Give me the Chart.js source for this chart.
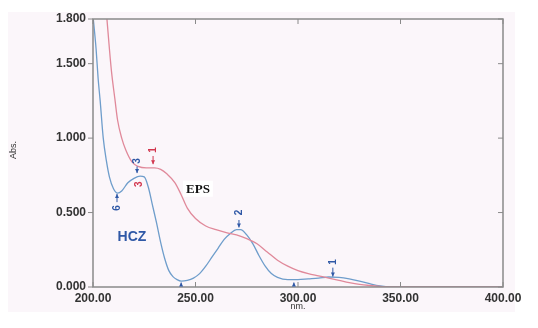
<!DOCTYPE html>
<html><head><meta charset="utf-8">
<script src="https://cdn.jsdelivr.net/npm/chart.js@4/dist/chart.umd.min.js"></script>
<style>html,body{margin:0;padding:0;background:#fff}#wrap{width:538px;height:328px}</style>
</head><body><div id="wrap"><canvas id="c" width="538" height="328"></canvas></div>
<script>
// ---- data ----
const hczNm  = [200,201.5,202.5,203.5,205,206.5,208,210,212,214,217,220,223,225,227,229,231,233,235,237,239,241,243,246,249,252,255,258,261,264,267,270,272,275,278,281,284,287,290,295,300,305,310,315,320,325,330,335,340,345,400];
const hczAbs = [1.82,1.6,1.4,1.25,1.0,0.85,0.74,0.66,0.63,0.645,0.70,0.73,0.745,0.74,0.67,0.55,0.43,0.30,0.19,0.11,0.07,0.05,0.04,0.045,0.06,0.09,0.14,0.20,0.26,0.32,0.36,0.385,0.385,0.35,0.29,0.21,0.14,0.09,0.065,0.05,0.05,0.055,0.06,0.067,0.065,0.055,0.04,0.022,0.007,0,0];
const epsNm  = [206.5,208,209,210.7,212,214,216,219,222,226,230,233,236,240,243,246,250,255,260,265,270,275,280,285,290,295,300,305,310,315,320,325,330,335,340,345,400];
const epsAbs = [1.85,1.6,1.45,1.26,1.12,1.0,0.92,0.84,0.81,0.80,0.80,0.79,0.76,0.70,0.62,0.53,0.46,0.41,0.385,0.365,0.35,0.325,0.29,0.235,0.18,0.14,0.11,0.09,0.075,0.06,0.045,0.03,0.018,0.01,0.004,0,0];
const xTicks = [200,250,300,350,400];
const yTicks = [0,0.5,1.0,1.5,1.8];
const seriesNames = ['HCZ','EPS'];
// peak markers: label, nm, text abs, arrow from abs, arrow tip abs, series
const peakLabels = ['6','3','3','1','2','1'];
const peakNm     = [211.7,221.5,222.4,229.3,271.2,317];
const peakTextAbs= [0.53,0.846,0.69,0.92,0.50,0.168];
const peakFrom   = [0.57,0.81,null,0.88,0.45,0.13];
const peakTip    = [0.625,0.765,null,0.825,0.40,0.07];
const peakSeries = [0,0,1,1,0,0];
const valleyNm   = [243,298];
const valleyTip  = [0.03,0.03];

const BLUE='#6e9dcb', RED='#e0899a', BLUE_TXT='#2f58a6', RED_TXT='#d2374f';

const deco = {
  id:'deco',
  beforeDraw(ch){
    const c=ch.ctx; c.save();
    c.fillStyle='#fbf6fa'; c.fillRect(8,12,507,300);
    c.restore();
  },
  afterDatasetsDraw(ch){
    const c=ch.ctx, xs=ch.scales.x, ys=ch.scales.y, a=ch.chartArea;
    c.save();
    c.strokeStyle='#8a8a8a'; c.lineWidth=1.5;
    c.strokeRect(a.left,a.top,a.right-a.left,a.bottom-a.top);
    c.lineWidth=1;
    xTicks.forEach(v=>{const p=xs.getPixelForValue(v);
      c.beginPath();c.moveTo(p,a.bottom);c.lineTo(p,a.bottom-5);c.moveTo(p,a.top);c.lineTo(p,a.top+5);c.stroke();});
    yTicks.forEach(v=>{const p=ys.getPixelForValue(v);
      c.beginPath();c.moveTo(a.left-5,p);c.lineTo(a.left,p);c.moveTo(a.right,p);c.lineTo(a.right-5,p);c.stroke();});
    c.fillStyle='#333'; c.font='9px "Liberation Sans", Arial'; c.textAlign='center'; c.textBaseline='middle';
    c.fillText('nm.', xs.getPixelForValue(300), a.bottom+20);
    c.save(); c.translate(14,150); c.rotate(-Math.PI/2); c.fillText('Abs.',0,0); c.restore();
    const arrow=(x,y0,y1,col)=>{c.strokeStyle=col;c.fillStyle=col;c.lineWidth=1;
      c.beginPath();c.moveTo(x,y0);c.lineTo(x,y1);c.stroke();
      const d=y1>y0?1:-1;c.beginPath();c.moveTo(x,y1);c.lineTo(x-2,y1-4*d);c.lineTo(x+2,y1-4*d);c.closePath();c.fill();};
    peakLabels.forEach((t,i)=>{
      const col=peakSeries[i]===0?BLUE_TXT:RED_TXT;
      const x=xs.getPixelForValue(peakNm[i]);
      if(peakFrom[i]!==null) arrow(x,ys.getPixelForValue(peakFrom[i]),ys.getPixelForValue(peakTip[i]),col);
      c.save(); c.translate(x,ys.getPixelForValue(peakTextAbs[i])); c.rotate(-Math.PI/2);
      c.fillStyle=col; c.font='bold 10px "Liberation Sans", Arial'; c.textAlign='center'; c.textBaseline='middle';
      c.fillText(t,0,0); c.restore();
    });
    valleyNm.forEach((v,i)=>{const x=xs.getPixelForValue(v); arrow(x,a.bottom-1,ys.getPixelForValue(valleyTip[i]),BLUE_TXT);});
    c.font='bold 14px "Liberation Sans", Arial'; c.fillStyle=BLUE_TXT; c.textAlign='center'; c.textBaseline='middle';
    c.fillText(seriesNames[0], xs.getPixelForValue(219), ys.getPixelForValue(0.336));
    c.font='bold 13px "Liberation Serif", serif';
    const ex=xs.getPixelForValue(251.2), ey=ys.getPixelForValue(0.66);
    const w=c.measureText(seriesNames[1]).width;
    c.fillStyle='#ffffff'; c.fillRect(ex-w/2-3,ey-8,w+6,16);
    c.fillStyle='#111'; c.fillText(seriesNames[1], ex, ey+1);
    c.restore();
  }
};

new Chart(document.getElementById('c'),{
  type:'line',
  data:{datasets:[
    {label:seriesNames[1],data:epsNm.map((x,i)=>({x,y:epsAbs[i]})),borderColor:RED,borderWidth:1.3,pointRadius:0,cubicInterpolationMode:'monotone',fill:false},
    {label:seriesNames[0],data:hczNm.map((x,i)=>({x,y:hczAbs[i]})),borderColor:BLUE,borderWidth:1.3,pointRadius:0,cubicInterpolationMode:'monotone',fill:false}
  ]},
  options:{
    responsive:false,animation:false,
    layout:{padding:{top:19,right:35,left:0,bottom:0}},
    plugins:{legend:{display:false},tooltip:{enabled:false}},
    scales:{
      x:{type:'linear',min:200,max:400,
        afterBuildTicks:s=>{s.ticks=xTicks.map(v=>({value:v}));},
        afterFit:s=>{s.height=41;},
        grid:{display:false},border:{display:false},
        ticks:{padding:-4,maxRotation:0,color:'#333',font:{family:'"Liberation Sans", Arial',size:12,weight:'bold'},callback:v=>Number(v).toFixed(2)}},
      y:{type:'linear',min:0,max:1.8,
        afterBuildTicks:s=>{s.ticks=yTicks.map(v=>({value:v}));},
        afterFit:s=>{s.width=93;},
        grid:{display:false},border:{display:false},
        ticks:{padding:-1,color:'#333',font:{family:'"Liberation Sans", Arial',size:12,weight:'bold'},callback:v=>Number(v).toFixed(3)}}
    }
  },
  plugins:[deco]
});
</script></body></html>
